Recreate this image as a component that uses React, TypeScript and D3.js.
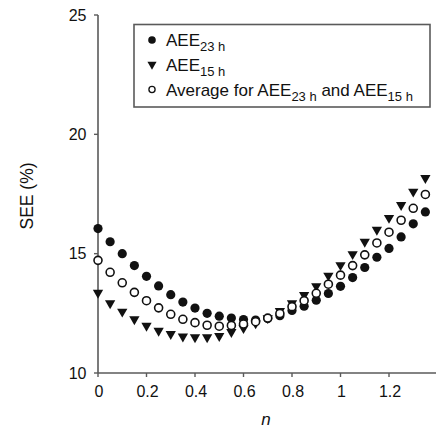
import React from "react";
import * as d3 from "d3";

const nValues = [0, 0.05, 0.1, 0.15, 0.2, 0.25, 0.3, 0.35, 0.4, 0.45, 0.5, 0.55, 0.6, 0.65, 0.7, 0.75, 0.8, 0.85, 0.9, 0.95, 1.0, 1.05, 1.1, 1.15, 1.2, 1.25, 1.3, 1.35];
const aee23 = [16.05, 15.5, 15.0, 14.5, 14.05, 13.65, 13.28, 12.97, 12.72, 12.5, 12.38, 12.3, 12.24, 12.22, 12.28, 12.4, 12.62, 12.8, 13.05, 13.33, 13.63, 14.0, 14.42, 14.85, 15.22, 15.7, 16.25, 16.75];
const aee15 = [13.36, 12.92, 12.57, 12.25, 11.98, 11.77, 11.63, 11.53, 11.5, 11.5, 11.55, 11.72, 11.88, 12.08, 12.3, 12.6, 12.92, 13.27, 13.64, 14.08, 14.52, 14.98, 15.5, 16.0, 16.5, 17.04, 17.6, 18.17];
const average = [14.72, 14.22, 13.78, 13.38, 13.03, 12.73, 12.46, 12.25, 12.11, 12.0, 11.96, 11.99, 12.05, 12.15, 12.3, 12.49, 12.78, 13.03, 13.34, 13.72, 14.1, 14.5, 14.95, 15.45, 15.9, 16.4, 16.9, 17.48];
const xTicks = [0, 0.2, 0.4, 0.6, 0.8, 1, 1.2];
const yTicks = [10, 15, 20, 25];

const FONT = "'Liberation Sans', Arial, Helvetica, sans-serif";
const AXIS = "#5a5a5a";
const INK = "#111";

export default function App() {
  const x = d3.scaleLinear().domain([0, 1.4]).range([98, 437.5]);
  const y = d3.scaleLinear().domain([10, 25]).range([373, 15]);
  const tri = d3.symbol().type(d3.symbolTriangle).size(46)();

  return (
    <svg width={436} height={428} style={{ position: "absolute", left: 0, top: 0, background: "#fff" }} fontFamily={FONT}>
      {/* axes */}
      <line x1={x(0)} x2={x(0)} y1={y(25)} y2={y(10)} stroke={AXIS} strokeWidth={1.6} />
      <line x1={x(0)} x2={436} y1={y(10)} y2={y(10)} stroke={AXIS} strokeWidth={1.6} />
      {yTicks.map((t) => (
        <g key={"y" + t}>
          <line x1={x(0) - 4} x2={x(0)} y1={y(t)} y2={y(t)} stroke={AXIS} strokeWidth={1.4} />
          <text x={86.5} y={y(t)} dy="0.36em" textAnchor="end" fontSize={16} fill={INK}>{t}</text>
        </g>
      ))}
      {xTicks.map((t) => (
        <g key={"x" + t}>
          <line x1={x(t)} x2={x(t)} y1={y(10)} y2={y(10) + 4} stroke={AXIS} strokeWidth={1.4} />
          <text x={x(t) + 1} y={397} textAnchor="middle" fontSize={16} fill={INK}>{t}</text>
        </g>
      ))}
      <text x={266} y={425} textAnchor="middle" fontSize={17} fontStyle="italic" fill={INK}>n</text>
      <text transform="translate(33,196) rotate(-90)" textAnchor="middle" fontSize={17.5} fill={INK}>SEE (%)</text>

      {/* data */}
      {nValues.map((n, i) => (
        <circle key={"a" + i} cx={x(n)} cy={y(aee23[i])} r={4.6} fill={INK} />
      ))}
      {nValues.map((n, i) => (
        <path key={"b" + i} d={tri} transform={`translate(${x(n)},${y(aee15[i])}) rotate(180)`} fill={INK} />
      ))}
      {nValues.map((n, i) => (
        <circle key={"c" + i} cx={x(n)} cy={y(average[i])} r={4} fill="#fff" stroke={INK} strokeWidth={1.6} />
      ))}

      {/* legend */}
      <rect x={134} y={24.5} width={296} height={82.5} fill="#fff" stroke={AXIS} strokeWidth={1.6} />
      <circle cx={152} cy={40} r={3.8} fill={INK} />
      <path d={d3.symbol().type(d3.symbolTriangle).size(36)()} transform="translate(152,64.5) rotate(180)" fill={INK} />
      <circle cx={152} cy={89.5} r={3.1} fill="#fff" stroke={INK} strokeWidth={1.3} />
      <text x={166} y={46} fontSize={17} fill={INK}>AEE<tspan dy={5} fontSize={13}>23 h</tspan></text>
      <text x={166} y={71} fontSize={17} fill={INK}>AEE<tspan dy={5} fontSize={13}>15 h</tspan></text>
      <text x={166} y={95.5} fontSize={17} fill={INK}>
        Average for AEE<tspan dy={5} fontSize={13}>23 h</tspan>
        <tspan dy={-5}> and AEE</tspan>
        <tspan dy={5} fontSize={13}>15 h</tspan>
      </text>
    </svg>
  );
}
